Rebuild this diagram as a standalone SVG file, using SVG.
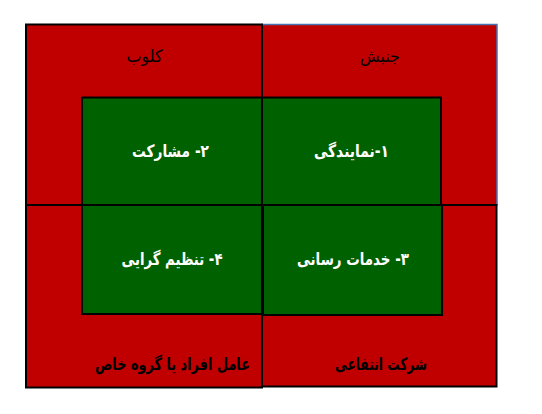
<svg xmlns="http://www.w3.org/2000/svg" width="542" height="414" viewBox="0 0 542 414">
<style>
.red{fill:#C00000;stroke:#000;stroke-width:2}
.redb{fill:#C00000;stroke:#4A72B0;stroke-width:1.5}
.grn{fill:#006100;stroke:#000;stroke-width:2}
text{font-family:"DejaVu Sans","Noto Sans",sans-serif;font-size:17px;text-anchor:middle;direction:rtl}
.w{fill:#fff;font-weight:bold}
.k{fill:#000}
.kb{fill:#000;font-weight:bold}
</style>
<rect width="542" height="414" fill="#fff"/>
<g id="movement"><rect class="redb" x="262" y="24.5" width="235" height="180.5"/><text class="k" x="380" y="62" textLength="40" lengthAdjust="spacingAndGlyphs">جنبش</text></g>
<g id="club"><rect class="red" x="26" y="24.5" width="236" height="180.5"/><text class="k" x="144.5" y="62" textLength="36" lengthAdjust="spacingAndGlyphs">کلوب</text></g>
<g id="agent"><rect class="red" x="26" y="205" width="236" height="182.5"/><text class="kb" x="172.5" y="370" textLength="155" lengthAdjust="spacingAndGlyphs">عامل افراد یا گروه خاص</text></g>
<g id="company"><rect class="red" x="262" y="205" width="234.5" height="181.5"/><text class="kb" x="381" y="370" textLength="92" lengthAdjust="spacingAndGlyphs">شرکت انتفاعی</text></g>
<g id="n2"><rect class="grn" x="82" y="97.5" width="180" height="107.5"/><text class="w" x="170.5" y="157" textLength="77" lengthAdjust="spacingAndGlyphs">۲- مشارکت</text></g>
<g id="n1"><rect class="grn" x="262" y="97.5" width="179" height="107.5"/><text class="w" x="351.5" y="157" textLength="75" lengthAdjust="spacingAndGlyphs">۱-نمایندگی</text></g>
<g id="n4"><rect class="grn" x="82" y="205" width="180" height="109"/><text class="w" x="172" y="265" textLength="101" lengthAdjust="spacingAndGlyphs">۴- تنظیم گرایی</text></g>
<g id="n3"><rect class="grn" x="263" y="205" width="179" height="110"/><text class="w" x="353" y="265" textLength="112" lengthAdjust="spacingAndGlyphs">۳- خدمات رسانی</text></g>
<g id="connectors"></g>
</svg>
